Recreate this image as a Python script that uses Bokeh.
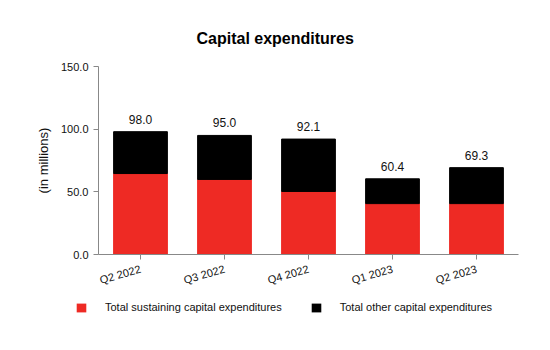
from bokeh.plotting import figure
from bokeh.layouts import column, row
from bokeh.models import ColumnDataSource, FixedTicker, NumeralTickFormatter, Legend, LegendItem, Range1d, FactorRange
from bokeh.core.properties import value
from bokeh.embed import file_html
from bokeh.resources import INLINE

quarters = ["Q2 2022", "Q3 2022", "Q4 2022", "Q1 2023", "Q2 2023"]
sustaining = [64.6, 59.9, 50.3, 40.6, 40.6]
other = [33.4, 35.1, 41.8, 19.8, 28.7]
totals = [98.0, 95.0, 92.1, 60.4, 69.3]
total_labels = ["98.0", "95.0", "92.1", "60.4", "69.3"]
series_names = ["Total sustaining capital expenditures", "Total other capital expenditures"]
y_ticks = [0, 50, 100, 150]

FONT = "Liberation Sans"
RED = "#ee2a24"
COLORS = [RED, "black"]

src = ColumnDataSource(dict(q=quarters, sustaining=sustaining, other=other,
                            total=totals, lab=total_labels))

p = figure(width=550, height=300, x_range=FactorRange(*quarters, range_padding=0),
           y_range=Range1d(0, 150), output_backend="svg", toolbar_location=None,
           min_border_left=98, min_border_right=32, min_border_top=66, min_border_bottom=46)

rs = p.vbar_stack(["sustaining", "other"], x="q", width=0.64, color=COLORS, source=src)

p.text(x="q", y="total", text="lab", source=src, text_align="center", text_baseline="bottom",
       y_offset=-8, text_font=value(FONT), text_font_size="12px", text_color="#111111")

p.title.text = "Capital expenditures"
p.title.align = "left"
p.title.offset = 98
p.title.text_font = FONT
p.title.text_font_size = "16px"
p.title.text_font_style = "bold"
p.title.text_color = "black"
p.title.standoff = 40

p.outline_line_color = None
p.xgrid.grid_line_color = None
p.ygrid.grid_line_color = None

p.yaxis.ticker = FixedTicker(ticks=y_ticks)
p.yaxis.formatter = NumeralTickFormatter(format="0.0")
p.yaxis.axis_label = "(in millions)"
p.yaxis.axis_label_text_font = FONT
p.yaxis.axis_label_text_font_style = "normal"
p.yaxis.axis_label_text_font_size = "13px"
p.yaxis.axis_label_text_color = "#111111"
p.yaxis.axis_label_standoff = 7
p.yaxis.minor_tick_line_color = None

for ax in (p.xaxis, p.yaxis):
    ax.axis_line_color = "#888888"
    ax.major_tick_line_color = "#888888"
    ax.major_tick_in = 0
    ax.major_tick_out = 5
    ax.major_label_text_font = FONT
    ax.major_label_text_font_size = "11px"
    ax.major_label_text_color = "#111111"

p.xaxis.major_label_orientation = 0.28
p.xaxis.major_label_standoff = 9

# legend strip below the chart (its bars are hidden; only the legend shows)
p2 = figure(width=550, height=50, x_range=FactorRange(*quarters), y_range=Range1d(0, 150),
            output_backend="svg", toolbar_location=None, x_axis_type=None, y_axis_type=None,
            min_border=0, outline_line_color=None)
p2.xgrid.grid_line_color = None
p2.ygrid.grid_line_color = None
rs2 = p2.vbar_stack(["sustaining", "other"], x="q", width=0.64, fill_color=COLORS,
                    line_color=None, source=src)
for r in rs2:
    r.visible = False
items = [LegendItem(label=name, renderers=[r]) for name, r in zip(series_names, rs2)]

legend = Legend(items=items, orientation="horizontal", location=(75, 37),
                label_text_font=FONT, label_text_font_size="11px", label_text_color="#111111",
                glyph_width=12, glyph_height=11, label_height=11, label_standoff=18, spacing=28,
                inactive_fill_alpha=0, click_policy="none",
                border_line_color=None, background_fill_alpha=0, padding=0, margin=0)
p2.add_layout(legend, "center")

layout = column(p, row(p2), spacing=0)
open("out.html", "w").write(file_html(layout, INLINE))
